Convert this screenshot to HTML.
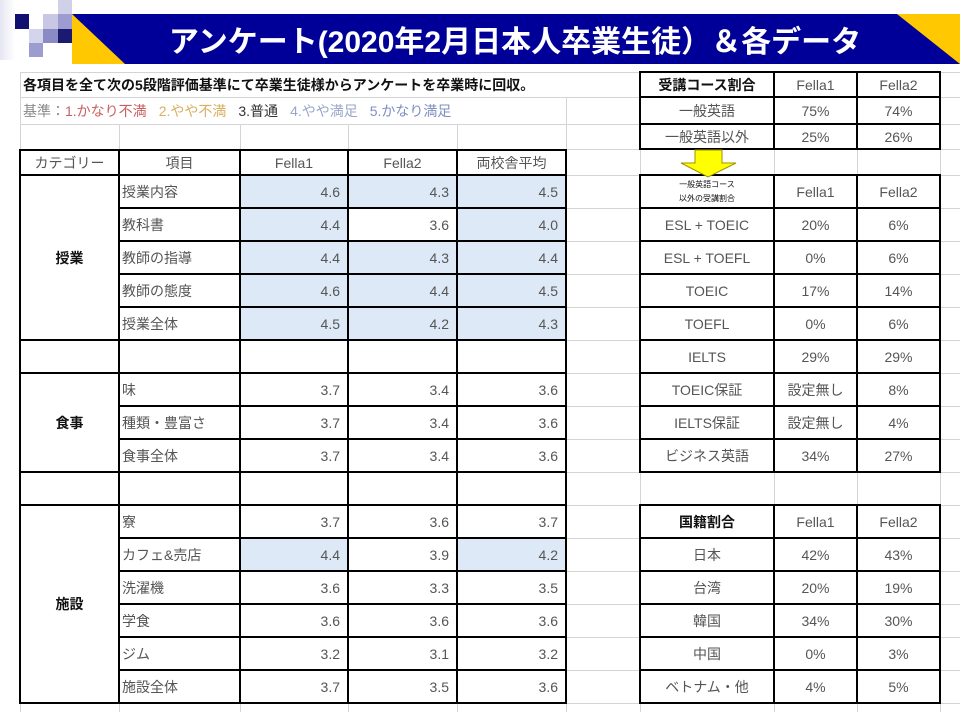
<!DOCTYPE html>
<html><head><meta charset="utf-8">
<style>
body{margin:0;width:960px;height:720px;background:#fff;position:relative;overflow:hidden;font-family:"Liberation Sans","Noto Sans CJK JP",sans-serif;}
div{position:absolute;box-sizing:border-box;}
.g{background:#d4d4d4;}
.k{background:#000;}
.w{background:#fff;}
.t{display:flex;align-items:center;justify-content:center;font-size:14px;color:#555;white-space:nowrap;}
.l{justify-content:flex-start;padding-left:3px;}
.r{justify-content:flex-end;padding-right:8px;}
.b{font-weight:bold;color:#111;}
.bl{background:#dde9f6;}
</style></head><body>
<!-- logo squares -->
<div style="left:0;top:0;width:15px;height:60px;background:linear-gradient(90deg,#e6e6f2,#fff)"></div>
<div style="left:15px;top:14px;width:14px;height:15px;background:#101070"></div>
<div style="left:43px;top:14px;width:15px;height:15px;background:#c8c8e4"></div>
<div style="left:58px;top:0;width:14px;height:14px;background:#d0d0e8"></div>
<div style="left:58px;top:14px;width:14px;height:15px;background:#9c9cd0"></div>
<div style="left:29px;top:29px;width:14px;height:14px;background:#d4d4ec"></div>
<div style="left:43px;top:29px;width:15px;height:14px;background:#8a8ac4"></div>
<div style="left:58px;top:29px;width:14px;height:14px;background:#1a1a70"></div>
<div style="left:29px;top:43px;width:14px;height:14px;background:#9c9cd0"></div>
<!-- title -->
<svg style="position:absolute;left:0;top:0" width="960" height="70">
<rect x="72" y="14" width="888" height="50" fill="#000099"/>
<polygon points="72,14 72,64 125,64" fill="#ffc800"/>
<polygon points="897,14 960,14 960,64" fill="#ffc800"/>
</svg>
<div style="left:125px;top:14px;width:780px;height:50px;display:flex;align-items:center;justify-content:center;color:#fff;font-weight:bold;font-size:30px;">アンケート(2020年2月日本人卒業生徒）＆各データ</div>

<!-- gray grid horizontals -->
<div class="g" style="left:20px;top:72px;width:940px;height:1px"></div>
<div class="g" style="left:20px;top:97px;width:940px;height:1px"></div>
<div class="g" style="left:20px;top:124px;width:940px;height:1px"></div>
<div class="g" style="left:20px;top:149px;width:940px;height:1px"></div>
<div class="g" style="left:20px;top:175px;width:940px;height:1px"></div>
<div class="g" style="left:20px;top:208px;width:940px;height:1px"></div>
<div class="g" style="left:20px;top:241px;width:940px;height:1px"></div>
<div class="g" style="left:20px;top:274px;width:940px;height:1px"></div>
<div class="g" style="left:20px;top:307px;width:940px;height:1px"></div>
<div class="g" style="left:20px;top:340px;width:940px;height:1px"></div>
<div class="g" style="left:20px;top:373px;width:940px;height:1px"></div>
<div class="g" style="left:20px;top:406px;width:940px;height:1px"></div>
<div class="g" style="left:20px;top:439px;width:940px;height:1px"></div>
<div class="g" style="left:20px;top:472px;width:940px;height:1px"></div>
<div class="g" style="left:20px;top:505px;width:940px;height:1px"></div>
<div class="g" style="left:20px;top:538px;width:940px;height:1px"></div>
<div class="g" style="left:20px;top:571px;width:940px;height:1px"></div>
<div class="g" style="left:20px;top:604px;width:940px;height:1px"></div>
<div class="g" style="left:20px;top:637px;width:940px;height:1px"></div>
<div class="g" style="left:20px;top:670px;width:940px;height:1px"></div>
<div class="g" style="left:20px;top:703px;width:940px;height:1px"></div>
<!-- gray verticals -->
<div class="g" style="left:20px;top:72px;width:1px;height:640px"></div>
<div class="g" style="left:119px;top:124px;width:1px;height:588px"></div>
<div class="g" style="left:240px;top:124px;width:1px;height:588px"></div>
<div class="g" style="left:348px;top:124px;width:1px;height:588px"></div>
<div class="g" style="left:457px;top:124px;width:1px;height:588px"></div>
<div class="g" style="left:566px;top:97px;width:1px;height:615px"></div>
<div class="g" style="left:640px;top:72px;width:1px;height:640px"></div>
<div class="g" style="left:774px;top:72px;width:1px;height:640px"></div>
<div class="g" style="left:857px;top:72px;width:1px;height:640px"></div>
<div class="g" style="left:940px;top:72px;width:1px;height:640px"></div>

<!-- merged category cells -->
<div class="w" style="left:21px;top:176px;width:97px;height:163px"></div>
<div class="w" style="left:21px;top:374px;width:97px;height:97px"></div>
<div class="w" style="left:21px;top:506px;width:97px;height:196px"></div>

<!-- blue cells -->
<div class="bl" style="left:240px;top:175px;width:326px;height:165px"></div>
<div style="left:348px;top:208px;width:109px;height:33px;background:#fff"></div>
<div class="bl" style="left:240px;top:538px;width:108px;height:33px"></div>
<div class="bl" style="left:457px;top:538px;width:109px;height:33px"></div>

<!-- left table black lines -->
<div class="k" style="left:19px;top:149px;width:548px;height:2px"></div>
<div class="k" style="left:19px;top:174px;width:548px;height:2px"></div>
<div class="k" style="left:119px;top:207px;width:448px;height:2px"></div>
<div class="k" style="left:119px;top:240px;width:448px;height:2px"></div>
<div class="k" style="left:119px;top:273px;width:448px;height:2px"></div>
<div class="k" style="left:119px;top:306px;width:448px;height:2px"></div>
<div class="k" style="left:19px;top:339px;width:548px;height:2px"></div>
<div class="k" style="left:19px;top:372px;width:548px;height:2px"></div>
<div class="k" style="left:119px;top:405px;width:448px;height:2px"></div>
<div class="k" style="left:119px;top:438px;width:448px;height:2px"></div>
<div class="k" style="left:19px;top:471px;width:548px;height:2px"></div>
<div class="k" style="left:19px;top:504px;width:548px;height:2px"></div>
<div class="k" style="left:119px;top:537px;width:448px;height:2px"></div>
<div class="k" style="left:119px;top:570px;width:448px;height:2px"></div>
<div class="k" style="left:119px;top:603px;width:448px;height:2px"></div>
<div class="k" style="left:119px;top:636px;width:448px;height:2px"></div>
<div class="k" style="left:119px;top:669px;width:448px;height:2px"></div>
<div class="k" style="left:19px;top:702px;width:548px;height:2px"></div>
<div class="k" style="left:19px;top:149px;width:2px;height:555px"></div>
<div class="k" style="left:118px;top:149px;width:2px;height:555px"></div>
<div class="k" style="left:239px;top:149px;width:2px;height:555px"></div>
<div class="k" style="left:347px;top:149px;width:2px;height:555px"></div>
<div class="k" style="left:456px;top:149px;width:2px;height:555px"></div>
<div class="k" style="left:565px;top:149px;width:2px;height:555px"></div>

<!-- right tables black lines -->
<div class="k" style="left:639px;top:71px;width:302px;height:2px"></div>
<div class="k" style="left:639px;top:96px;width:302px;height:2px"></div>
<div class="k" style="left:639px;top:123px;width:302px;height:2px"></div>
<div class="k" style="left:639px;top:148px;width:302px;height:2px"></div>
<div class="k" style="left:639px;top:71px;width:2px;height:79px"></div>
<div class="k" style="left:773px;top:71px;width:2px;height:79px"></div>
<div class="k" style="left:856px;top:71px;width:2px;height:79px"></div>
<div class="k" style="left:939px;top:71px;width:2px;height:79px"></div>

<div class="k" style="left:639px;top:174px;width:302px;height:2px"></div>
<div class="k" style="left:639px;top:207px;width:302px;height:2px"></div>
<div class="k" style="left:639px;top:240px;width:302px;height:2px"></div>
<div class="k" style="left:639px;top:273px;width:302px;height:2px"></div>
<div class="k" style="left:639px;top:306px;width:302px;height:2px"></div>
<div class="k" style="left:639px;top:339px;width:302px;height:2px"></div>
<div class="k" style="left:639px;top:372px;width:302px;height:2px"></div>
<div class="k" style="left:639px;top:405px;width:302px;height:2px"></div>
<div class="k" style="left:639px;top:438px;width:302px;height:2px"></div>
<div class="k" style="left:639px;top:471px;width:302px;height:2px"></div>
<div class="k" style="left:639px;top:174px;width:2px;height:299px"></div>
<div class="k" style="left:773px;top:174px;width:2px;height:299px"></div>
<div class="k" style="left:856px;top:174px;width:2px;height:299px"></div>
<div class="k" style="left:939px;top:174px;width:2px;height:299px"></div>

<div class="k" style="left:639px;top:504px;width:302px;height:2px"></div>
<div class="k" style="left:639px;top:537px;width:302px;height:2px"></div>
<div class="k" style="left:639px;top:570px;width:302px;height:2px"></div>
<div class="k" style="left:639px;top:603px;width:302px;height:2px"></div>
<div class="k" style="left:639px;top:636px;width:302px;height:2px"></div>
<div class="k" style="left:639px;top:669px;width:302px;height:2px"></div>
<div class="k" style="left:639px;top:702px;width:302px;height:2px"></div>
<div class="k" style="left:639px;top:504px;width:2px;height:200px"></div>
<div class="k" style="left:773px;top:504px;width:2px;height:200px"></div>
<div class="k" style="left:856px;top:504px;width:2px;height:200px"></div>
<div class="k" style="left:939px;top:504px;width:2px;height:200px"></div>

<!-- arrow -->
<svg style="position:absolute;left:660px;top:148px" width="90" height="32">
<polygon points="35,2 62,2 62,15 76,15 48,29 21,15 35,15" fill="#ffff00" stroke="#a09000" stroke-width="1"/>
</svg>

<!-- row1/2 text -->
<div class="t l b" style="left:20px;top:73px;height:24px;font-size:14px">各項目を全て次の5段階評価基準にて卒業生徒様からアンケートを卒業時に回収。</div>
<div class="t l" style="left:20px;top:98px;height:26px;font-size:14px"><span style="color:#888">基準：</span><span style="color:#c86060">1.かなり不満</span><span style="color:#d8b060;margin-left:12px">2.やや不満</span><span style="color:#333;margin-left:12px">3.普通</span><span style="color:#9aa6c8;margin-left:12px">4.やや満足</span><span style="color:#7f8fc0;margin-left:12px">5.かなり満足</span></div>

<!-- left header -->
<div class="t" style="left:20px;top:150px;width:99px;height:25px">カテゴリー</div>
<div class="t" style="left:119px;top:150px;width:121px;height:25px">項目</div>
<div class="t" style="left:240px;top:150px;width:108px;height:25px">Fella1</div>
<div class="t" style="left:348px;top:150px;width:109px;height:25px">Fella2</div>
<div class="t" style="left:457px;top:150px;width:109px;height:25px">両校舎平均</div>
<div class="t b" style="left:20px;top:175px;width:99px;height:165px">授業</div>
<div class="t b" style="left:20px;top:373px;width:99px;height:99px">食事</div>
<div class="t b" style="left:20px;top:505px;width:99px;height:198px">施設</div>

<!-- left rows -->
<div class="t l" style="left:119px;top:175px;width:121px;height:33px">授業内容</div><div class="t r" style="left:240px;top:175px;width:108px;height:33px">4.6</div><div class="t r" style="left:348px;top:175px;width:109px;height:33px">4.3</div><div class="t r" style="left:457px;top:175px;width:109px;height:33px">4.5</div>
<div class="t l" style="left:119px;top:208px;width:121px;height:33px">教科書</div><div class="t r" style="left:240px;top:208px;width:108px;height:33px">4.4</div><div class="t r" style="left:348px;top:208px;width:109px;height:33px">3.6</div><div class="t r" style="left:457px;top:208px;width:109px;height:33px">4.0</div>
<div class="t l" style="left:119px;top:241px;width:121px;height:33px">教師の指導</div><div class="t r" style="left:240px;top:241px;width:108px;height:33px">4.4</div><div class="t r" style="left:348px;top:241px;width:109px;height:33px">4.3</div><div class="t r" style="left:457px;top:241px;width:109px;height:33px">4.4</div>
<div class="t l" style="left:119px;top:274px;width:121px;height:33px">教師の態度</div><div class="t r" style="left:240px;top:274px;width:108px;height:33px">4.6</div><div class="t r" style="left:348px;top:274px;width:109px;height:33px">4.4</div><div class="t r" style="left:457px;top:274px;width:109px;height:33px">4.5</div>
<div class="t l" style="left:119px;top:307px;width:121px;height:33px">授業全体</div><div class="t r" style="left:240px;top:307px;width:108px;height:33px">4.5</div><div class="t r" style="left:348px;top:307px;width:109px;height:33px">4.2</div><div class="t r" style="left:457px;top:307px;width:109px;height:33px">4.3</div>
<div class="t l" style="left:119px;top:373px;width:121px;height:33px">味</div><div class="t r" style="left:240px;top:373px;width:108px;height:33px">3.7</div><div class="t r" style="left:348px;top:373px;width:109px;height:33px">3.4</div><div class="t r" style="left:457px;top:373px;width:109px;height:33px">3.6</div>
<div class="t l" style="left:119px;top:406px;width:121px;height:33px">種類・豊富さ</div><div class="t r" style="left:240px;top:406px;width:108px;height:33px">3.7</div><div class="t r" style="left:348px;top:406px;width:109px;height:33px">3.4</div><div class="t r" style="left:457px;top:406px;width:109px;height:33px">3.6</div>
<div class="t l" style="left:119px;top:439px;width:121px;height:33px">食事全体</div><div class="t r" style="left:240px;top:439px;width:108px;height:33px">3.7</div><div class="t r" style="left:348px;top:439px;width:109px;height:33px">3.4</div><div class="t r" style="left:457px;top:439px;width:109px;height:33px">3.6</div>
<div class="t l" style="left:119px;top:505px;width:121px;height:33px">寮</div><div class="t r" style="left:240px;top:505px;width:108px;height:33px">3.7</div><div class="t r" style="left:348px;top:505px;width:109px;height:33px">3.6</div><div class="t r" style="left:457px;top:505px;width:109px;height:33px">3.7</div>
<div class="t l" style="left:119px;top:538px;width:121px;height:33px">カフェ&amp;売店</div><div class="t r" style="left:240px;top:538px;width:108px;height:33px">4.4</div><div class="t r" style="left:348px;top:538px;width:109px;height:33px">3.9</div><div class="t r" style="left:457px;top:538px;width:109px;height:33px">4.2</div>
<div class="t l" style="left:119px;top:571px;width:121px;height:33px">洗濯機</div><div class="t r" style="left:240px;top:571px;width:108px;height:33px">3.6</div><div class="t r" style="left:348px;top:571px;width:109px;height:33px">3.3</div><div class="t r" style="left:457px;top:571px;width:109px;height:33px">3.5</div>
<div class="t l" style="left:119px;top:604px;width:121px;height:33px">学食</div><div class="t r" style="left:240px;top:604px;width:108px;height:33px">3.6</div><div class="t r" style="left:348px;top:604px;width:109px;height:33px">3.6</div><div class="t r" style="left:457px;top:604px;width:109px;height:33px">3.6</div>
<div class="t l" style="left:119px;top:637px;width:121px;height:33px">ジム</div><div class="t r" style="left:240px;top:637px;width:108px;height:33px">3.2</div><div class="t r" style="left:348px;top:637px;width:109px;height:33px">3.1</div><div class="t r" style="left:457px;top:637px;width:109px;height:33px">3.2</div>
<div class="t l" style="left:119px;top:670px;width:121px;height:33px">施設全体</div><div class="t r" style="left:240px;top:670px;width:108px;height:33px">3.7</div><div class="t r" style="left:348px;top:670px;width:109px;height:33px">3.5</div><div class="t r" style="left:457px;top:670px;width:109px;height:33px">3.6</div>

<!-- right table 1 -->
<div class="t b" style="left:640px;top:72px;width:134px;height:25px">受講コース割合</div><div class="t" style="left:774px;top:72px;width:83px;height:25px">Fella1</div><div class="t" style="left:857px;top:72px;width:83px;height:25px">Fella2</div>
<div class="t" style="left:640px;top:97px;width:134px;height:27px">一般英語</div><div class="t" style="left:774px;top:97px;width:83px;height:27px">75%</div><div class="t" style="left:857px;top:97px;width:83px;height:27px">74%</div>
<div class="t" style="left:640px;top:124px;width:134px;height:25px">一般英語以外</div><div class="t" style="left:774px;top:124px;width:83px;height:25px">25%</div><div class="t" style="left:857px;top:124px;width:83px;height:25px">26%</div>

<!-- right table 2 -->
<div class="t" style="left:640px;top:176px;width:134px;height:32px;flex-direction:column;font-size:8px;color:#111;line-height:14px"><span>一般英語コース</span><span>以外の受講割合</span></div>
<div class="t" style="left:774px;top:175px;width:83px;height:33px">Fella1</div><div class="t" style="left:857px;top:175px;width:83px;height:33px">Fella2</div>
<div class="t" style="left:640px;top:208px;width:134px;height:33px">ESL + TOEIC</div><div class="t" style="left:774px;top:208px;width:83px;height:33px">20%</div><div class="t" style="left:857px;top:208px;width:83px;height:33px">6%</div>
<div class="t" style="left:640px;top:241px;width:134px;height:33px">ESL + TOEFL</div><div class="t" style="left:774px;top:241px;width:83px;height:33px">0%</div><div class="t" style="left:857px;top:241px;width:83px;height:33px">6%</div>
<div class="t" style="left:640px;top:274px;width:134px;height:33px">TOEIC</div><div class="t" style="left:774px;top:274px;width:83px;height:33px">17%</div><div class="t" style="left:857px;top:274px;width:83px;height:33px">14%</div>
<div class="t" style="left:640px;top:307px;width:134px;height:33px">TOEFL</div><div class="t" style="left:774px;top:307px;width:83px;height:33px">0%</div><div class="t" style="left:857px;top:307px;width:83px;height:33px">6%</div>
<div class="t" style="left:640px;top:340px;width:134px;height:33px">IELTS</div><div class="t" style="left:774px;top:340px;width:83px;height:33px">29%</div><div class="t" style="left:857px;top:340px;width:83px;height:33px">29%</div>
<div class="t" style="left:640px;top:373px;width:134px;height:33px">TOEIC保証</div><div class="t" style="left:774px;top:373px;width:83px;height:33px">設定無し</div><div class="t" style="left:857px;top:373px;width:83px;height:33px">8%</div>
<div class="t" style="left:640px;top:406px;width:134px;height:33px">IELTS保証</div><div class="t" style="left:774px;top:406px;width:83px;height:33px">設定無し</div><div class="t" style="left:857px;top:406px;width:83px;height:33px">4%</div>
<div class="t" style="left:640px;top:439px;width:134px;height:33px">ビジネス英語</div><div class="t" style="left:774px;top:439px;width:83px;height:33px">34%</div><div class="t" style="left:857px;top:439px;width:83px;height:33px">27%</div>

<!-- right table 3 -->
<div class="t b" style="left:640px;top:505px;width:134px;height:33px">国籍割合</div><div class="t" style="left:774px;top:505px;width:83px;height:33px">Fella1</div><div class="t" style="left:857px;top:505px;width:83px;height:33px">Fella2</div>
<div class="t" style="left:640px;top:538px;width:134px;height:33px">日本</div><div class="t" style="left:774px;top:538px;width:83px;height:33px">42%</div><div class="t" style="left:857px;top:538px;width:83px;height:33px">43%</div>
<div class="t" style="left:640px;top:571px;width:134px;height:33px">台湾</div><div class="t" style="left:774px;top:571px;width:83px;height:33px">20%</div><div class="t" style="left:857px;top:571px;width:83px;height:33px">19%</div>
<div class="t" style="left:640px;top:604px;width:134px;height:33px">韓国</div><div class="t" style="left:774px;top:604px;width:83px;height:33px">34%</div><div class="t" style="left:857px;top:604px;width:83px;height:33px">30%</div>
<div class="t" style="left:640px;top:637px;width:134px;height:33px">中国</div><div class="t" style="left:774px;top:637px;width:83px;height:33px">0%</div><div class="t" style="left:857px;top:637px;width:83px;height:33px">3%</div>
<div class="t" style="left:640px;top:670px;width:134px;height:33px">ベトナム・他</div><div class="t" style="left:774px;top:670px;width:83px;height:33px">4%</div><div class="t" style="left:857px;top:670px;width:83px;height:33px">5%</div>
</body></html>
